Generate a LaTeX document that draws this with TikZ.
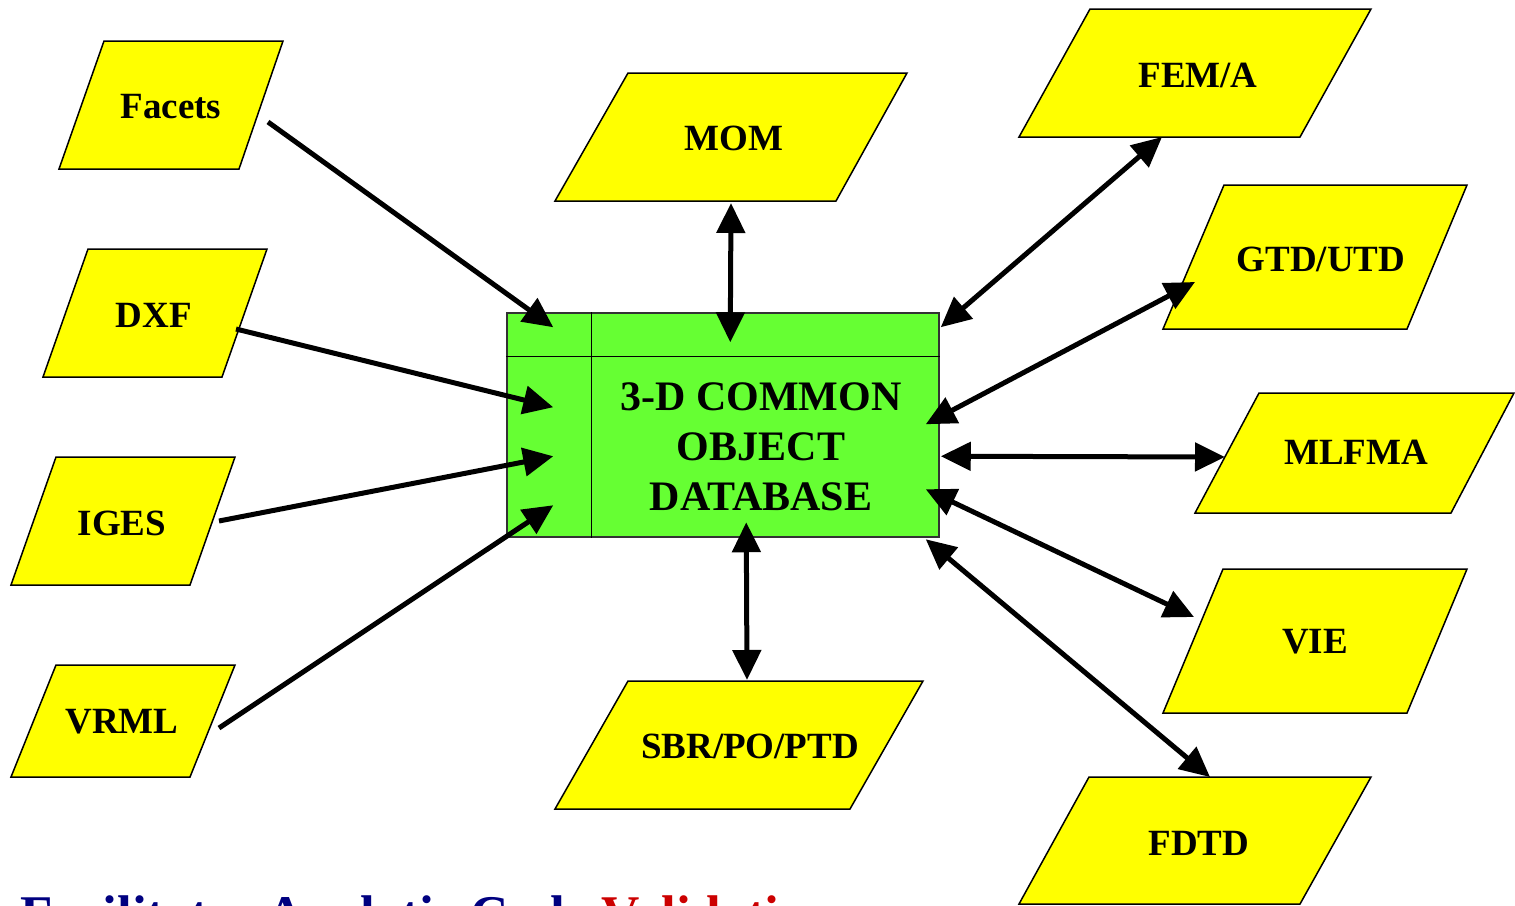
\documentclass[tikz,border=0pt]{standalone}
\usepackage{fontspec}
\setmainfont{Liberation Serif}
\usepackage{xcolor}
\usepackage{tikz}
\usetikzlibrary{arrows.meta, positioning, calc}
\definecolor{dbgreen}{RGB}{102,255,51}
\definecolor{slabyellow}{RGB}{255,255,0}
\definecolor{codenavy}{RGB}{0,0,128}
\definecolor{codered}{RGB}{204,0,0}
\tikzset{
    slab/.style={draw=black, line width=1.5pt, fill=slabyellow, line join=miter},
    tag/.style={inner sep=0pt, font=\fontsize{37}{44}\selectfont\bfseries},
    link/.style={line width=5pt, -{Triangle[length=30pt, width=28pt]}},
    duplex/.style={line width=5pt, {Triangle[length=30pt, width=28pt]}-{Triangle[length=30pt, width=28pt]}},
    divider/.style={line width=1.5pt, black}
}

\begin{document}
\begin{tikzpicture}[x=1pt, y=-1pt]
    \useasboundingbox (0,0) rectangle (1515,905);
    % Database box
    \node[draw=black!80, fill=dbgreen, line width=1.5pt, minimum width=432pt, minimum height=224pt] (db) at (723,425) {};
    \draw[divider] ($(db.north west)+(85,0)$) -- ($(db.south west)+(85,0)$);
    \draw[divider] ($(db.north west)+(0,44)$) -- ($(db.north east)+(0,44)$);
    \node[font=\fontsize{42}{50}\selectfont\bfseries, align=center] (dbname) at (761,447) {3-D COMMON\\OBJECT\\DATABASE};
    % Geometry formats (left)
    \draw[slab] (104,41) -- (283,41) -- (239,169) -- (59,169) -- cycle;
    \node[tag] (facets) at (171,107) {Facets};
    \draw[slab] (88,249) -- (267,249) -- (222,377) -- (43,377) -- cycle;
    \node[tag] (dxf) at (154,315) {DXF};
    \draw[slab] (56,457) -- (235,457) -- (190,585) -- (11,585) -- cycle;
    \node[tag] (iges) at (122,523) {IGES};
    \draw[slab] (56,665) -- (235,665) -- (190,777) -- (11,777) -- cycle;
    \node[tag] (vrml) at (122,722) {VRML};
    % Solvers
    \draw[slab] (628,73) -- (907,73) -- (836,201) -- (555,201) -- cycle;
    \node[tag] (mom) at (734,138) {MOM};
    \draw[slab] (628,681) -- (923,681) -- (850,809) -- (555,809) -- cycle;
    \node[tag] (sbr) at (750,746) {SBR/PO/PTD};
    \draw[slab] (1090,9) -- (1371,9) -- (1300,137) -- (1019,137) -- cycle;
    \node[tag] (fema) at (1198,75) {FEM/A};
    \draw[slab] (1224,185) -- (1467,185) -- (1407,329) -- (1163,329) -- cycle;
    \node[tag] (gtd) at (1321,259) {GTD/UTD};
    \draw[slab] (1259,393) -- (1514,393) -- (1451,513) -- (1195,513) -- cycle;
    \node[tag] (mlfma) at (1356,452) {MLFMA};
    \draw[slab] (1223,569) -- (1467,569) -- (1407,713) -- (1163,713) -- cycle;
    \node[tag] (vie) at (1315,642) {VIE};
    \draw[slab] (1089,777) -- (1371,777) -- (1300,904) -- (1019,904) -- cycle;
    \node[tag] (fdtd) at (1199,843) {FDTD};
    % Imports
    \draw[link] ($(facets)+(97,15)$) -- ($(db.north west)+(47,15)$);
    \draw[link] ($(dxf)+(82,14)$) -- ($(db.north west)+(47,95)$);
    \draw[link] ($(iges)+(97,-2)$) -- ($(db.north west)+(47,144)$);
    \draw[link] ($(vrml)+(97,6)$) -- ($(db.north west)+(47,193)$);
    % Two-way exchange
    \draw[duplex] ($(mom)+(-3,65)$) -- ($(db.north west)+(224,30)$);
    \draw[duplex] ($(sbr)+(-3,-66)$) -- ($(db.north west)+(240,210)$);
    \draw[duplex] ($(fema)+(-36,62)$) -- ($(db.north east)+(1,15)$);
    \draw[duplex] ($(gtd)+(-126,23)$) -- ($(db.north east)+(-14,112)$);
    \draw[duplex] ($(mlfma)+(-131,5)$) -- ($(db.north east)+(1,144)$);
    \draw[duplex] ($(vie)+(-121,-25)$) -- ($(db.north east)+(-14,177)$);
    \draw[duplex] ($(fdtd)+(11,-66)$) -- ($(db.north east)+(-14,227)$);
    % Caption (cut by the frame)
    \node[anchor=base west, inner sep=0pt, font=\fontsize{53}{60}\selectfont\bfseries] (motto) at (20,932)
        {\textcolor{codenavy}{Facilitates Analytic Code} \textcolor{codered}{Validation}};
\end{tikzpicture}
\end{document}
